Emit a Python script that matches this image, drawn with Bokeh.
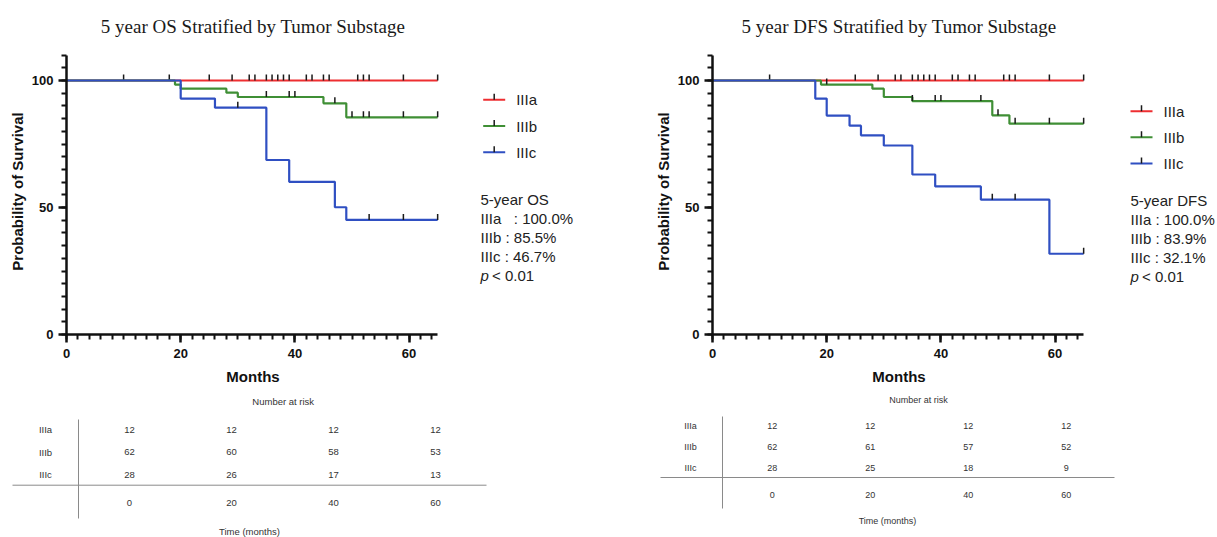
from bokeh.plotting import figure
from bokeh.models import Range1d, FixedTicker
from bokeh.layouts import row, column
from bokeh.embed import file_html
from bokeh.resources import INLINE
from bokeh.core.properties import value

# ---------------- data ----------------
groups = ["IIIa", "IIIb", "IIIc"]
colors = ["#ee2e31", "#3f8f35", "#2f4fc2"]

# 5-year OS (event times, survival % after each event)
os_a_t = [0]
os_a_s = [100.0]
os_b_t = [0, 19, 20, 28, 30, 45, 49]
os_b_s = [100.0, 98.4, 96.8, 95.2, 93.5, 91.0, 85.5]
os_c_t = [0, 20, 26, 35, 39, 47, 49]
os_c_s = [100.0, 92.9, 89.3, 68.7, 60.1, 50.1, 45.1]
os_a_cens = [10, 18, 25, 29, 32, 33, 35, 36, 37, 38, 39, 42, 43, 45, 46, 51, 52, 53, 59, 65]
os_b_cens = [35, 39, 40, 47, 50, 52, 53, 59, 65]
os_c_cens = [30, 53, 59, 65]

# 5-year DFS
dfs_a_t = [0]
dfs_a_s = [100.0]
dfs_b_t = [0, 19, 28, 30, 35, 49, 52]
dfs_b_s = [100.0, 98.4, 96.8, 93.5, 91.9, 86.3, 83.0]
dfs_c_t = [0, 18, 20, 24, 26, 30, 35, 39, 47, 59]
dfs_c_s = [100.0, 92.9, 86.2, 82.2, 78.4, 74.4, 63.0, 58.3, 53.1, 31.8]
dfs_a_cens = [10, 25, 29, 32, 33, 35, 36, 37, 38, 39, 42, 43, 45, 46, 51, 52, 53, 59, 65]
dfs_b_cens = [20, 35, 39, 40, 47, 50, 53, 59, 65]
dfs_c_cens = [49, 53, 65]

follow_up_end = 65

os_5yr = [100.0, 85.5, 46.7]
dfs_5yr = [100.0, 83.9, 32.1]
p_text = "< 0.01"

risk_times = [0, 20, 40, 60]
os_risk_a = [12, 12, 12, 12]
os_risk_b = [62, 60, 58, 53]
os_risk_c = [28, 26, 17, 13]
dfs_risk_a = [12, 12, 12, 12]
dfs_risk_b = [62, 61, 57, 52]
dfs_risk_c = [28, 25, 18, 9]

# ---------------- layout constants ----------------
PX_X = 5.71     # px per month
PX_Y = 2.54     # px per percent
H_KM = 390
F_TOP = 48
F_BOT = 334
FRAME_W = 373
H_T = 147
SANS = "Liberation Sans"
TXT = "#222222"
AX = "#111111"


def step_at(ts, ss, t):
    v = ss[0]
    for ti, si in zip(ts, ss):
        if ti <= t:
            v = si
    return v


def km_panel(title, curves, left):
    p = figure(width=left + FRAME_W, height=H_KM,
               x_range=Range1d(0, FRAME_W / PX_X),
               y_range=Range1d(0, (F_BOT - F_TOP) / PX_Y),
               min_border_left=left, min_border_right=0, min_border_top=F_TOP,
               min_border_bottom=H_KM - F_BOT,
               output_backend="svg", toolbar_location=None)
    p.grid.visible = False
    p.outline_line_color = None
    p.title.text = title
    p.title.align = "center"
    p.title.vertical_align = "bottom"
    p.title.standoff = 24
    p.title.text_font = "Liberation Serif"
    p.title.text_font_size = "19px"
    p.title.text_font_style = "normal"
    p.title.text_color = "#1a1a1a"

    p.xaxis.bounds = (0, follow_up_end)
    p.yaxis.bounds = (0, 110)
    p.xaxis.ticker = FixedTicker(ticks=[0, 20, 40, 60], minor_ticks=list(range(0, 65, 2)))
    p.yaxis.ticker = FixedTicker(ticks=[0, 50, 100], minor_ticks=list(range(0, 111, 5)))
    for ax in (p.xaxis[0], p.yaxis[0]):
        ax.axis_line_width = 2.5
        ax.axis_line_color = AX
        ax.major_tick_line_width = 2.5
        ax.major_tick_line_color = AX
        ax.major_tick_out = 8
        ax.major_tick_in = 0
        ax.minor_tick_line_width = 2
        ax.minor_tick_line_color = AX
        ax.minor_tick_out = 5
        ax.minor_tick_in = 0
        ax.major_label_text_font = SANS
        ax.major_label_text_font_style = "bold"
        ax.major_label_text_font_size = "13px"
        ax.major_label_text_color = AX
        ax.axis_label_text_font = SANS
        ax.axis_label_text_font_style = "bold"
        ax.axis_label_text_font_size = "15px"
        ax.axis_label_text_color = AX
    p.xaxis.axis_label = "Months"
    p.yaxis.axis_label = "Probability of Survival"
    p.xaxis.major_label_standoff = 6
    p.yaxis.major_label_standoff = 5
    p.xaxis.axis_label_standoff = 7
    p.yaxis.axis_label_standoff = 3

    for col, (ts, ss, cens) in zip(colors, curves):
        xs = list(ts) + [follow_up_end]
        ys = list(ss) + [ss[-1]]
        p.step(xs, ys, mode="after", line_color=col, line_width=2.2)
        cy = [step_at(ts, ss, c) for c in cens]
        p.segment(x0=cens, y0=cy, x1=cens, y1=[v + 6 / PX_Y for v in cy],
                  line_color="#1a1a1a", line_width=1.5)
    return p


def side_panel(width, leg_x, leg_ys, stats_x, stats_y0, stats_head, stats_vals, pads):
    p = figure(width=width, height=H_KM,
               x_range=Range1d(0, width), y_range=Range1d(F_BOT, F_TOP),
               min_border_left=0, min_border_right=0, min_border_top=F_TOP,
               min_border_bottom=H_KM - F_BOT,
               x_axis_location=None, y_axis_location=None,
               output_backend="svg", toolbar_location=None)
    p.grid.visible = False
    p.outline_line_color = None
    # legend
    p.segment(x0=[leg_x] * 3, y0=leg_ys, x1=[leg_x + 22] * 3, y1=leg_ys,
              line_color=colors, line_width=2)
    p.segment(x0=[leg_x + 11] * 3, y0=leg_ys, x1=[leg_x + 11] * 3, y1=[y - 6 for y in leg_ys],
              line_color="#1a1a1a", line_width=1.5)
    p.text(x=[leg_x + 33] * 3, y=leg_ys, text=groups, text_font=value(SANS),
           text_font_size="15px", text_color=TXT, text_baseline="middle", text_align="left")
    # stats block
    ys = [stats_y0 + 19 * i for i in range(5)]
    lines = [stats_head] + [f"{g}{pad}: {v:.1f}%" for g, pad, v in zip(groups, pads, stats_vals)]
    p.text(x=[stats_x] * 4, y=ys[:4], text=lines, text_font=value(SANS),
           text_font_size="15px", text_color=TXT, text_baseline="middle", text_align="left")
    p.text(x=[stats_x], y=[ys[4]], text=["p"], text_font=value(SANS),
           text_font_style="italic", text_font_size="15px", text_color=TXT,
           text_baseline="middle", text_align="left")
    p.text(x=[stats_x + 11.5], y=[ys[4]], text=[p_text], text_font=value(SANS),
           text_font_size="15px", text_color=TXT, text_baseline="middle", text_align="left")
    return p


def table_panel(width, risks, x0, ppm, fs, rows_y, head_y, hline_y, hline_x,
                vline_x, vline_y, times_y, tlab_y, head_x, tlab_x, rlab_x):
    p = figure(width=width, height=H_T,
               x_range=Range1d(-x0 / ppm, (width - x0) / ppm), y_range=Range1d(H_T, 0),
               min_border_left=0, min_border_right=0, min_border_top=0, min_border_bottom=0,
               x_axis_location=None, y_axis_location=None,
               output_backend="svg", toolbar_location=None)
    p.grid.visible = False
    p.outline_line_color = None
    tx = lambda px: (px - x0) / ppm
    common = dict(text_font=value(SANS), text_font_size=fs, text_color="#333333",
                  text_baseline="middle", text_align="center")
    p.text(x=[tx(head_x)], y=[head_y], text=["Number at risk"], **common)
    p.text(x=[tx(tlab_x)], y=[tlab_y], text=["Time (months)"], **common)
    p.text(x=[tx(rlab_x)] * 3, y=rows_y, text=groups, **common)
    for ry, vals in zip(rows_y, risks):
        p.text(x=risk_times, y=[ry] * len(vals), text=[str(v) for v in vals], **common)
    p.text(x=risk_times, y=[times_y] * len(risk_times), text=[str(t) for t in risk_times], **common)
    p.segment(x0=[tx(hline_x[0]), tx(vline_x)], y0=[hline_y, vline_y[0]],
              x1=[tx(hline_x[1]), tx(vline_x)], y1=[hline_y, vline_y[1]],
              line_color="#8a8a8a", line_width=1)
    return p


km_l = km_panel("5 year OS Stratified by Tumor Substage",
                [(os_a_t, os_a_s, os_a_cens), (os_b_t, os_b_s, os_b_cens), (os_c_t, os_c_s, os_c_cens)], 66)
side_l = side_panel(640 - (66 + FRAME_W), 43.7, [99.3, 125.5, 151.7], 41, 199,
                    "5-year OS", os_5yr, ["\u00a0\u00a0 ", " ", " "])
km_r = km_panel("5 year DFS Stratified by Tumor Substage",
                [(dfs_a_t, dfs_a_s, dfs_a_cens), (dfs_b_t, dfs_b_s, dfs_b_cens), (dfs_c_t, dfs_c_s, dfs_c_cens)], 72)
side_r = side_panel(577 - (72 + FRAME_W), 45, [110.7, 136.8, 163], 45, 200,
                    "5-year DFS", dfs_5yr, [" ", " ", " "])

tb_l = table_panel(640, [os_risk_a, os_risk_b, os_risk_c], 129, 5.1, "9.5px",
                   [39, 61.7, 84], 10.7, 94.7, (12, 486), 78, (29, 128), 112.7, 141,
                   282.7, 249, 45)
tb_r = table_panel(577, [dfs_risk_a, dfs_risk_b, dfs_risk_c], 131.7, 4.9, "9px",
                   [35.7, 56.7, 77], 9, 87, (20, 474), 82, (26, 118), 104, 130,
                   278, 247, 50)

layout = column(row(km_l, side_l, km_r, side_r), row(tb_l, tb_r))
open("out.html", "w").write(file_html(layout, INLINE))
